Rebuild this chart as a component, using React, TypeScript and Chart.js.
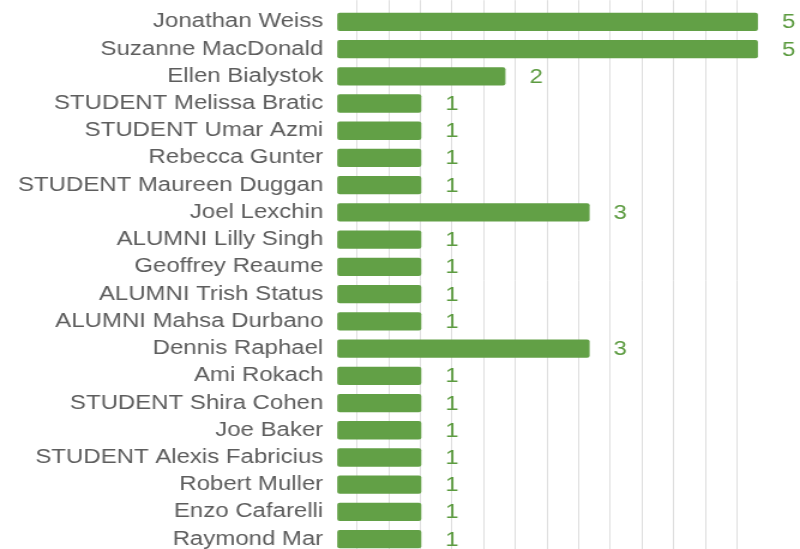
import React, { useEffect, useRef } from "react";
import { Chart, registerables } from "chart.js";

Chart.register(...registerables);

const names: string[] = [
  "Jonathan Weiss",
  "Suzanne MacDonald",
  "Ellen Bialystok",
  "STUDENT Melissa Bratic",
  "STUDENT Umar Azmi",
  "Rebecca Gunter",
  "STUDENT Maureen Duggan",
  "Joel Lexchin",
  "ALUMNI Lilly Singh",
  "Geoffrey Reaume",
  "ALUMNI Trish Status",
  "ALUMNI Mahsa Durbano",
  "Dennis Raphael",
  "Ami Rokach",
  "STUDENT Shira Cohen",
  "Joe Baker",
  "STUDENT Alexis Fabricius",
  "Robert Muller",
  "Enzo Cafarelli",
  "Raymond Mar",
];

const counts: number[] = [5, 5, 2, 1, 1, 1, 1, 3, 1, 1, 1, 1, 3, 1, 1, 1, 1, 1, 1, 1];

const X_MAX = 5.5;
const GRID_START = 0.2375;
const GRID_STEP = 0.3761;
const GRID_COUNT = 13;

const BAR_COLOR = "#62a046";
const VALUE_COLOR = "#5c9b40";
const LABEL_COLOR = "#5d5d5d";
const FONT_FAMILY = "'Liberation Sans', Arial, sans-serif";

const CANVAS_W = 667;
const CANVAS_H = 560;

const valueLabels = {
  id: "valueLabels",
  afterDatasetsDraw(chart: any) {
    const ctx = chart.ctx;
    const meta = chart.getDatasetMeta(0);
    const xScale = chart.scales.x;
    ctx.save();
    ctx.font = `20px ${FONT_FAMILY}`;
    ctx.fillStyle = VALUE_COLOR;
    ctx.textAlign = "left";
    ctx.textBaseline = "middle";
    meta.data.forEach((bar: any, i: number) => {
      const v = counts[i];
      const x = xScale.getPixelForValue(v) + 20;
      ctx.fillText(String(v), x, bar.y + 1);
    });
    ctx.restore();
  },
};

export default function App() {
  const ref = useRef<HTMLCanvasElement | null>(null);

  useEffect(() => {
    if (!ref.current) return;
    const chart = new Chart(ref.current, {
      type: "bar",
      data: {
        labels: names,
        datasets: [
          {
            data: counts,
            backgroundColor: BAR_COLOR,
            borderRadius: 2,
            borderSkipped: false,
            barPercentage: 0.672,
            categoryPercentage: 1,
          },
        ],
      },
      options: {
        indexAxis: "y",
        responsive: false,
        animation: false,
        layout: { padding: { top: 0.2, bottom: 7.2, left: 0, right: 0 } },
        plugins: {
          legend: { display: false },
          tooltip: { enabled: false },
        },
        scales: {
          x: {
            position: "top",
            min: 0,
            max: X_MAX,
            afterBuildTicks(scale: any) {
              const t: any[] = [];
              for (let i = 0; i < GRID_COUNT; i++) t.push({ value: GRID_START + i * GRID_STEP });
              scale.ticks = t;
            },
            ticks: { display: false },
            grid: {
              color: "#dedede",
              lineWidth: 1,
              drawTicks: true,
              tickLength: 8,
            },
            border: { display: false },
          },
          y: {
            afterFit(scale: any) {
              scale.width = 281.1;
              scale.paddingTop = 0;
              scale.paddingBottom = 0;
            },
            ticks: {
              padding: 11.6,
              color: LABEL_COLOR,
              font: { family: FONT_FAMILY, size: 20 },
              autoSkip: false,
            },
            grid: { display: false, drawTicks: false },
            border: { display: false },
          },
        },
      },
      plugins: [valueLabels],
    });
    return () => chart.destroy();
  }, []);

  return (
    <div
      style={{
        position: "fixed",
        top: 0,
        left: 0,
        width: 800,
        height: 549,
        overflow: "hidden",
        background: "#fff",
      }}
    >
      <div
        style={{
          width: CANVAS_W,
          height: CANVAS_H,
          transform: `scaleX(${800 / CANVAS_W})`,
          transformOrigin: "0 0",
        }}
      >
        <canvas ref={ref} width={CANVAS_W} height={CANVAS_H} />
      </div>
    </div>
  );
}
